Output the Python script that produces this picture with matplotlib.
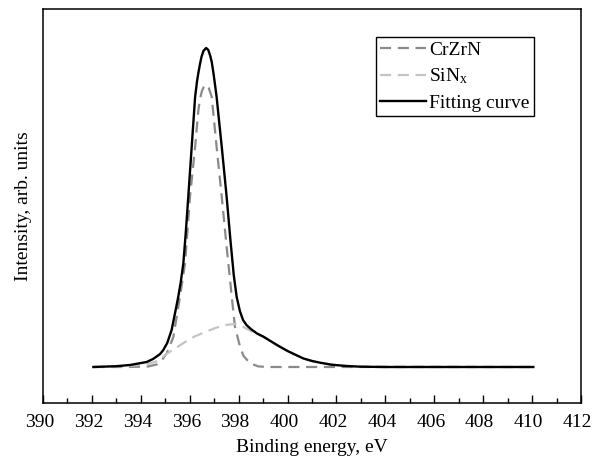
import matplotlib
matplotlib.use("Agg")
import matplotlib.pyplot as plt
import matplotlib.transforms as mtransforms
from matplotlib.ticker import MultipleLocator

plt.rcParams['font.family'] = ['Liberation Serif', 'DejaVu Serif']
plt.rcParams['mathtext.fontset'] = 'stix'

# Fitting curve (binding energy eV, intensity arb.)
fit_x = [392.06, 393.0, 393.56, 394.24, 394.5, 394.79, 394.92, 395.08, 395.26, 395.40,
         395.53, 395.64, 395.74, 395.84, 395.94, 396.08, 396.22, 396.30, 396.36, 396.42,
         396.48, 396.56, 396.67, 396.76, 396.84, 396.90, 396.97, 397.03, 397.10, 397.20,
         397.31, 397.41, 397.51, 397.66, 397.80, 397.92, 398.05, 398.18, 398.32, 398.50,
         398.75, 399.00, 399.30, 399.60, 400.00, 400.30, 400.65, 401.00, 401.33, 401.80,
         402.40, 403.00, 404.00, 410.05]
fit_y = [0.0, 0.8, 2.0, 5.0, 8.0, 13.0, 17.0, 24.0, 37.0, 54.0,
         70.0, 86.0, 104.0, 135.0, 170.0, 220.0, 270.0, 286.0, 295.0, 303.0,
         310.0, 316.0, 319.0, 317.0, 311.0, 305.0, 294.0, 283.0, 270.0, 246.0,
         220.0, 195.0, 170.0, 128.0, 92.0, 70.0, 56.0, 47.0, 42.0, 38.0,
         33.5, 30.5, 26.0, 21.5, 16.0, 12.5, 8.5, 6.0, 4.3, 2.3,
         1.0, 0.3, 0.0, 0.0]

# CrZrN component
crzrn_x = [392.06, 393.5, 394.3, 394.65, 394.85, 395.06, 395.33, 395.60, 395.81, 396.01,
           396.22, 396.35, 396.42, 396.50, 396.58, 396.66, 396.72, 396.78, 396.90, 397.10,
           397.31, 397.51, 397.72, 397.85, 398.06, 398.20, 398.47, 398.80, 399.20, 410.05]
crzrn_y = [0.0, 0.0, 0.5, 2.5, 6.5, 13.7, 30.0, 70.0, 104.0, 170.0,
           220.0, 256.0, 268.0, 276.0, 280.5, 282.0, 281.5, 279.0, 270.0, 220.0,
           170.0, 120.0, 70.0, 40.0, 20.0, 11.0, 3.7, 0.6, 0.0, 0.0]

# SiNx component
sinx_x = [392.06, 393.5, 394.3, 394.7, 394.99, 395.4, 395.81, 396.2, 396.63, 397.05,
          397.45, 397.85, 398.15, 398.47, 398.75, 399.00, 399.30, 399.60, 400.00, 400.30,
          400.65, 401.00, 401.33, 401.80, 402.40, 403.00, 410.05]
sinx_y = [0.0, 1.0, 3.0, 6.0, 12.0, 18.5, 25.0, 30.5, 35.0, 39.0,
          42.0, 43.0, 40.5, 36.5, 33.0, 30.5, 26.0, 21.5, 16.0, 12.5,
          8.5, 6.0, 4.3, 2.3, 1.0, 0.3, 0.0]

labels = ['CrZrN', 'SiN$_{\\mathregular{x}}$', 'Fitting curve']

fig = plt.figure(figsize=(5.93, 4.63), dpi=100)
ax = fig.add_axes([0.0725, 0.1296, 0.9073, 0.851])

ax.plot(crzrn_x, crzrn_y, color='#8a8a8a', lw=1.6, ls=(0, (5, 3)), label=labels[0])
ax.plot(sinx_x, sinx_y, color='#c4c4c4', lw=1.6, ls=(0, (5, 3)), label=labels[1])
ax.plot(fit_x, fit_y, color='black', lw=1.7, label=labels[2])

ax.set_xlim(390, 412)
ax.set_ylim(-36, 358)
ax.xaxis.set_major_locator(MultipleLocator(2))
ax.xaxis.set_minor_locator(MultipleLocator(1))
ax.tick_params(axis='x', which='major', direction='in', length=6, width=1,
               labelsize=14, pad=8, top=False)
ax.tick_params(axis='x', which='minor', direction='in', length=3.5, width=1, top=False)
ax.set_yticks([])
for s in ax.spines.values():
    s.set_linewidth(1.1)

offset = mtransforms.ScaledTranslation(-3.5 / 100, 0, fig.dpi_scale_trans)
for lbl in ax.get_xticklabels():
    lbl.set_transform(lbl.get_transform() + offset)

ax.set_xlabel('Binding energy, eV', fontsize=14, labelpad=6)
ax.set_ylabel('Intensity, arb. units', fontsize=14, labelpad=8)

leg = ax.legend(loc='upper right', bbox_to_anchor=(0.912, 0.928), fontsize=14,
                frameon=True, fancybox=False, edgecolor='black', framealpha=1,
                handlelength=2.4, handletextpad=0.15, labelspacing=0.4,
                borderpad=0.2, borderaxespad=0)
leg.get_frame().set_linewidth(1.0)

fig.savefig('out.png', dpi=100)
